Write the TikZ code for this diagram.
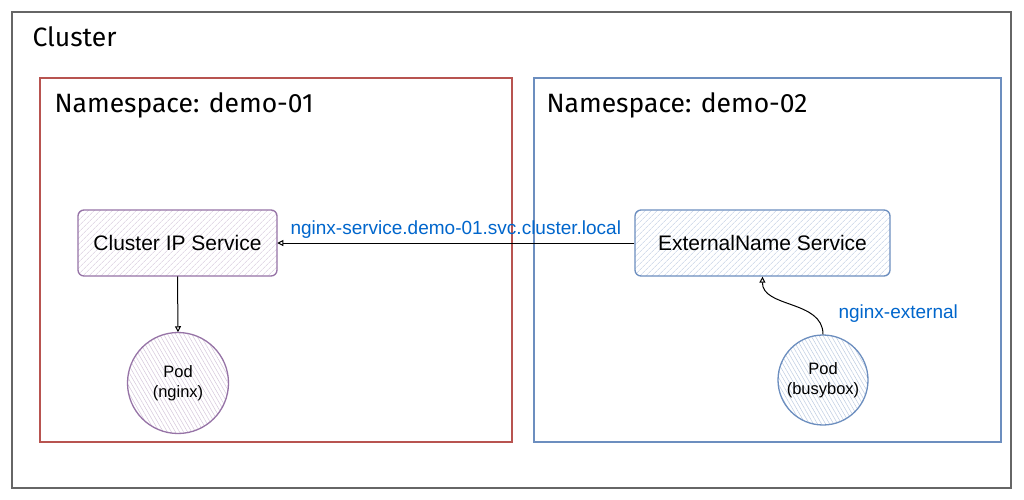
\documentclass[tikz,border=0pt]{standalone}
\usepackage{fontspec}
\setmainfont{Liberation Sans}
\newfontfamily\hand{Fira Sans}
\usetikzlibrary{patterns.meta,arrows.meta}
\definecolor{nsred}{HTML}{B85450}
\definecolor{nsblue}{HTML}{6C8EBF}
\definecolor{svcpurple}{HTML}{9673A6}
\definecolor{lblblue}{HTML}{0066CC}
\tikzset{
  frame/.style={line width=1.2pt},
  title/.style={anchor=west,font=\hand\fontsize{26.5}{30}\selectfont},
  svcbox/.style={draw,line width=1.3pt,rounded corners=6pt,minimum height=66pt},
  svctext/.style={font=\fontsize{21}{25}\selectfont},
  podcircle/.style={circle,draw,line width=1.3pt,inner sep=0pt},
  podtext/.style={align=center,font=\fontsize{16.5}{20}\selectfont},
  conn/.style={line width=1pt,-{Triangle[open,length=6pt,width=6pt]}},
  lbl/.style={text=lblblue,font=\fontsize{19}{23}\selectfont}
}
\begin{document}
\begin{tikzpicture}[x=1pt,y=-1pt]
\useasboundingbox (0,0) rectangle (1024,499);
\fill[white] (0,0) rectangle (1024,499);
% cluster
\draw[frame,draw=black!60] (12,12) rectangle (1011,488);
\node[title] (ctitle) at (29,37) {Cluster};
% namespaces
\draw[frame,draw=nsred] (40,78) rectangle (512,442);
\node[title] (ns1) at (51,105) {Namespace: demo-01};
\draw[frame,draw=nsblue] (534,78) rectangle (1001,442);
\node[title] (ns2) at (543,105) {Namespace: demo-02};
% services
\node[svcbox,draw=svcpurple,minimum width=199pt,
  pattern={Lines[angle=45,distance=4pt,line width=0.5pt]},pattern color=svcpurple!40]
  (cip) at (177.5,243) {};
\node[svctext] (cipt) at (cip.center) {Cluster IP Service};
\node[svcbox,draw=nsblue,minimum width=255pt,
  pattern={Lines[angle=45,distance=4pt,line width=0.5pt]},pattern color=nsblue!45]
  (ens) at (762.5,243) {};
\node[svctext] (enst) at (ens.center) {ExternalName Service};
% pods
\node[podcircle,draw=svcpurple,minimum size=101pt,
  pattern={Lines[angle=-60,distance=3.5pt,line width=0.5pt]},pattern color=svcpurple!40]
  (pn) at (178,383) {};
\node[podtext] (pnt) at (pn.center) {Pod\\(nginx)};
\node[podcircle,draw=nsblue,minimum size=90pt,
  pattern={Lines[angle=-60,distance=3.5pt,line width=0.5pt]},pattern color=nsblue!45]
  (pb) at (823,380) {};
\node[podtext] (pbt) at (pb.center) {Pod\\(busybox)};
% connectors
\draw[conn] (cip.south) -- (pn.north);
\draw[conn] (ens.west) -- node[lbl,above=1pt,pos=0.5] (l1) {nginx-service.demo-01.svc.cluster.local} (cip.east);
\draw[conn] (pb.north) .. controls (823,300) and (762,308) .. (ens.south);
\node[lbl,anchor=west] (l2) at (835,314) {nginx-external};
\end{tikzpicture}
\end{document}
